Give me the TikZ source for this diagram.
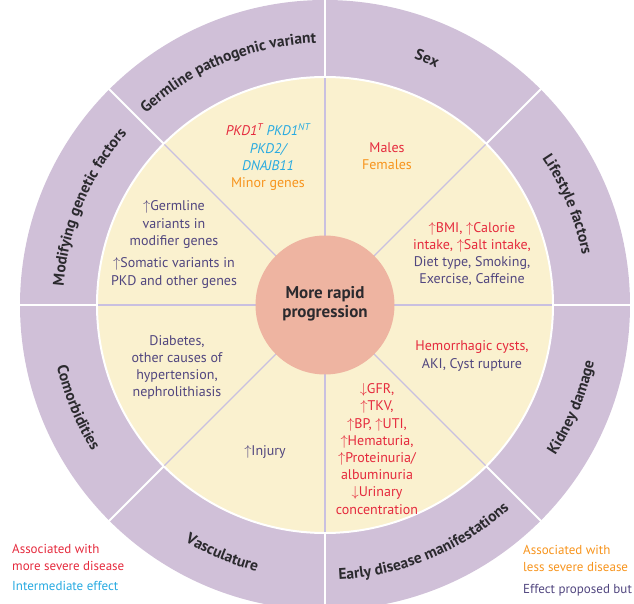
\documentclass[tikz,border=0pt]{standalone}
\usepackage{fontspec}
\setmainfont{PT Sans}
\usetikzlibrary{decorations.text}

\definecolor{ringfill}{HTML}{D0C0D8}
\definecolor{corefill}{HTML}{FAF1CF}
\definecolor{hubfill}{HTML}{EEB4A1}
\definecolor{spoke}{HTML}{C9C0E0}
\definecolor{txtred}{HTML}{E52A3D}
\definecolor{txtcyan}{HTML}{27AAE1}
\definecolor{txtorange}{HTML}{F7941D}
\definecolor{txtpurple}{HTML}{51467F}
\definecolor{txtdark}{HTML}{2B2A2E}

\newcommand\upar{$\uparrow$}
\newcommand\dnar{$\downarrow$}
\newcommand\ringfont{\fontsize{15.5}{18}\selectfont\bfseries\color{txtdark}}

\begin{document}
\begin{tikzpicture}[x=1pt,y=1pt,
  cell/.style={align=center, inner sep=0pt, font=\fontsize{14}{17.2}\selectfont},
  legend/.style={align=left, anchor=west, inner sep=0pt, font=\fontsize{13}{17}\selectfont},
  ringcw/.style={decorate, decoration={text along path, text align=center, text={|\ringfont|#1}}},
  ringccw/.style={decorate, decoration={text along path, text align=center, text={|\ringfont|#1}}},
  ringsep/.style={white, line width=2pt},
  spokeline/.style={spoke, line width=1.2pt}]

\useasboundingbox (-325,-299) rectangle (309,305);
\clip (-325,-299) rectangle (309,305);

% outer ring, inner disc and their separators
\fill[ringfill] (0,0) circle[radius=305];
\fill[corefill] (0,0) circle[radius=228];
\draw[ringsep] (0,0) circle[radius=228];
\foreach \a in {0,45,...,315} {
  \draw[ringsep] (\a:228) -- (\a:306);
  \draw[spokeline] (\a:69) -- (\a:227);
}

% hub
\fill[hubfill] (0,0) circle[radius=69.5];
\node[font=\fontsize{17}{19}\selectfont\bfseries, text=txtdark, align=center] (hub) at (0,1.5) {More rapid\\progression};

% ring labels (upper half read clockwise, lower half counterclockwise)
\path[ringcw={Germline pathogenic variant}] (147.5:262) arc[start angle=147.5, end angle=77.5, radius=262];
\path[ringcw={Sex}] (102.5:262) arc[start angle=102.5, end angle=32.5, radius=262];
\path[ringcw={Lifestyle factors}] (57.5:262) arc[start angle=57.5, end angle=-12.5, radius=262];
\path[ringcw={Modifying genetic factors}] (192.5:262) arc[start angle=192.5, end angle=122.5, radius=262];
\path[ringccw={Comorbidities}] (167.5:275) arc[start angle=167.5, end angle=237.5, radius=275];
\path[ringccw={Vasculature}] (212.5:275) arc[start angle=212.5, end angle=282.5, radius=275];
\path[ringccw={Early disease manifestations}] (-102.5:275) arc[start angle=-102.5, end angle=-32.5, radius=275];
\path[ringccw={Kidney damage}] (-57.5:275) arc[start angle=-57.5, end angle=12.5, radius=275];

% sector contents
\node[cell] (genes) at (-57,148) {%
  \textcolor{txtred}{\itshape PKD1\textsuperscript{T}} \textcolor{txtcyan}{\itshape PKD1\textsuperscript{NT}}\\
  \textcolor{txtcyan}{\itshape PKD2/}\\
  \textcolor{txtcyan}{\itshape DNAJB11}\\
  \textcolor{txtorange}{Minor genes}};
\node[cell] (sex) at (62,148.5) {\textcolor{txtred}{Males}\\\textcolor{txtorange}{Females}};
\node[cell] (life) at (147,51) {%
  \textcolor{txtred}{\upar BMI, \upar Calorie}\\
  \textcolor{txtred}{intake, \upar Salt intake,}\\
  \textcolor{txtpurple}{Diet type, Smoking,}\\
  \textcolor{txtpurple}{Exercise, Caffeine}};
\node[cell, text=txtpurple] (modif) at (-151,60.5) {%
  \upar Germline\\variants in\\modifier genes\\[5.5pt]
  \upar Somatic variants in\\PKD and other genes};
\node[cell, text=txtpurple] (comorb) at (-148,-62.5) {Diabetes,\\other causes of\\hypertension,\\nephrolithiasis};
\node[cell, text=txtpurple] (vasc) at (-60,-147) {\upar Injury};
\node[cell, text=txtred] (early) at (52,-144) {%
  \dnar GFR,\\\upar TKV,\\\upar BP, \upar UTI,\\\upar Hematuria,\\\upar Proteinuria/\\albuminuria\\\dnar Urinary\\concentration};
\node[cell] (kidney) at (147,-51) {\textcolor{txtred}{Hemorrhagic cysts,}\\\textcolor{txtpurple}{AKI, Cyst rupture}};

% key
\node[legend, text=txtred] (keysevere) at (-313,-252.5) {Associated with\\more severe disease};
\node[legend, text=txtcyan] (keyinter) at (-313,-281) {Intermediate effect};
\node[legend, text=txtorange] (keymild) at (198,-253.5) {Associated with\\less severe disease};
\node[legend, text=txtpurple] (keyproposed) at (198,-285) {Effect proposed but};

\end{tikzpicture}
\end{document}
